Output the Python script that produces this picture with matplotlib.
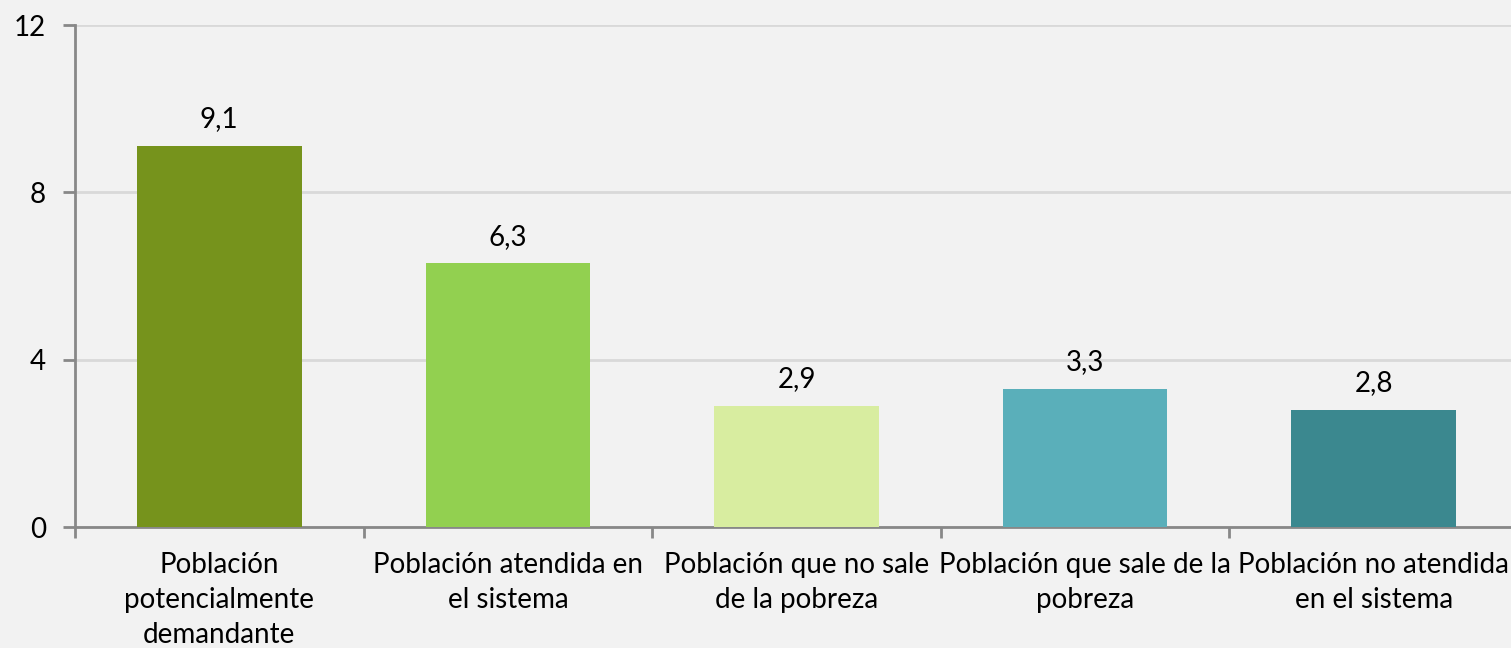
import numpy as np
import matplotlib.pyplot as plt

categorias = ["Población\npotencialmente\ndemandante",
              "Población atendida en\nel sistema",
              "Población que no sale\nde la pobreza",
              "Población que sale de la\npobreza",
              "Población no atendida\nen el sistema"]
valores = [9.1, 6.3, 2.9, 3.3, 2.8]
colores = ["#76931C", "#92D050", "#D8EDA0", "#5AAFBA", "#3B888F"]
yticks = [0, 4, 8, 12]

plt.rcParams['font.family'] = ['Lato', 'DejaVu Sans']
bg = '#F2F2F2'
fig = plt.figure(figsize=(15.11, 6.48), dpi=100, facecolor=bg)
ax = fig.add_axes([75/1511, 1 - 527/648, 1443/1511, 502/648], facecolor=bg)

x = np.arange(len(valores))
ax.bar(x, valores, width=0.57, color=colores, zorder=3)
for xi, v in zip(x, valores):
    ax.text(xi, v + 0.33, f"{v:.1f}".replace('.', ','), ha='center', va='bottom', fontsize=20)

ax.set_xlim(-0.5, len(valores) - 0.5)
ax.set_ylim(0, 12)
ax.set_yticks(yticks)
ax.set_yticklabels([str(t) for t in yticks], fontsize=20)
ax.yaxis.grid(True, color='#D9D9D9', linewidth=2, zorder=0)

ax.set_xticks(np.arange(-0.5, len(valores), 1.0), minor=False)
ax.set_xticklabels([])
ax.set_xticks(x, minor=True)
ax.set_xticklabels(categorias, minor=True, fontsize=20, linespacing=1.42)
ax.tick_params(axis='x', which='major', length=8, width=2, color='#888888')
ax.tick_params(axis='x', which='minor', length=0, pad=18)
ax.tick_params(axis='y', length=9, width=2, color='#888888', pad=12)

for s in ['top', 'right']:
    ax.spines[s].set_visible(False)
for s in ['left', 'bottom']:
    ax.spines[s].set_color('#888888')
    ax.spines[s].set_linewidth(2)

fig.savefig('out.png', dpi=100, facecolor=bg)
